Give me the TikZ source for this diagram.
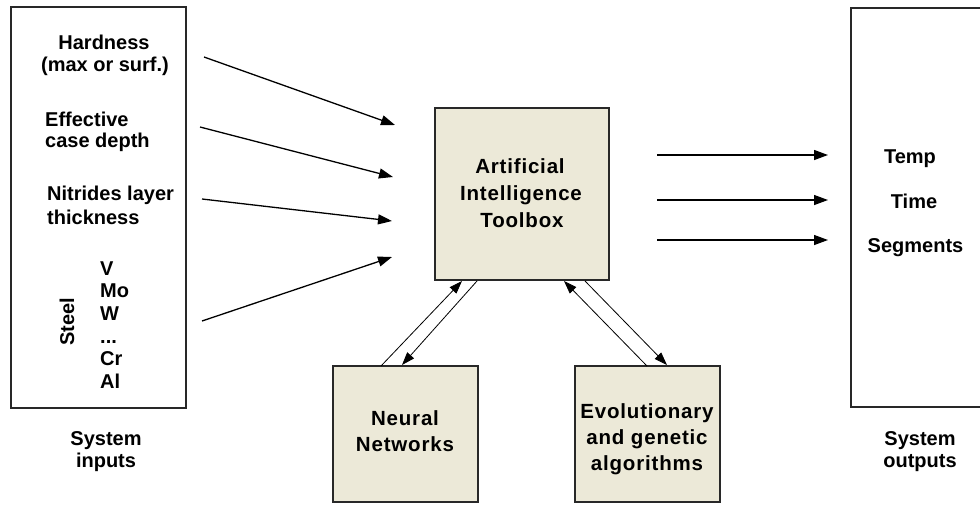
\documentclass[tikz,border=0pt]{standalone}
\usepackage{fontspec}
\setmainfont{Liberation Sans}
\newfontfamily\boxfont[LetterSpace=4]{Liberation Sans}
\usetikzlibrary{arrows.meta}
\definecolor{toolfill}{RGB}{236,233,216}
\definecolor{framecol}{RGB}{40,40,40}
\begin{document}
\begin{tikzpicture}[x=1pt,y=-1pt,
  lbl/.style={font=\bfseries\fontsize{20}{24}\selectfont, inner sep=0pt, anchor=base},
  lbll/.style={lbl, anchor=base west},
  boxlbl/.style={font=\boxfont\bfseries\fontsize{20.5}{24}\selectfont, inner sep=0pt, anchor=base},
  frame/.style={draw=framecol, line width=2pt, inner sep=0pt, outer sep=0pt},
  tool/.style={frame, fill=toolfill},
  bigarrow/.style={line width=1.3pt, -{Triangle[length=14pt,width=10pt]}},
  thinarrow/.style={line width=0.8pt, -{Triangle[length=13pt,width=9pt]}},
]
\useasboundingbox (0,0) rectangle (980,504);
\clip (0,0) rectangle (980,504);

% boxes
\node[frame, minimum width=175pt, minimum height=401pt] (inbox) at (98.5,207.5) {};
\node[frame, minimum width=150pt, minimum height=399pt] (outbox) at (926,207.5) {};
\node[tool, minimum width=174pt, minimum height=172pt] (ai) at (522,194) {};
\node[tool, minimum width=145pt, minimum height=136pt] (nn) at (405.5,434) {};
\node[tool, minimum width=145pt, minimum height=136pt] (ega) at (647.5,434) {};

% input texts
\node[lbl] (h1) at (104,49) {Hardness};
\node[lbl] (h2) at (105,71) {(max or surf.)};
\node[lbll] (e1) at (45,126) {Effective};
\node[lbll] (e2) at (45,147) {case depth};
\node[lbll] (n1) at (47,200) {Nitrides layer};
\node[lbll] (n2) at (47,224) {thickness};
\node[lbll] (s1) at (100,275) {V};
\node[lbll] (s2) at (100,297) {Mo};
\node[lbll] (s3) at (100,320) {W};
\node[lbll] (s4) at (100,343) {...};
\node[lbll] (s5) at (100,365) {Cr};
\node[lbll] (s6) at (100,388) {Al};
\node[lbl, anchor=center, rotate=90] (steel) at (67,322) {Steel};
\node[lbl] (si1) at (106,445) {System};
\node[lbl] (si2) at (106,467) {inputs};

% tool box texts
\node[boxlbl] (a1) at (520,173) {Artificial};
\node[boxlbl] (a2) at (521,200) {Intelligence};
\node[boxlbl] (a3) at (522,227) {Toolbox};
\node[boxlbl] (nn1) at (405,425) {Neural};
\node[boxlbl] (nn2) at (405,451) {Networks};
\node[boxlbl] (g1) at (647,418) {Evolutionary};
\node[boxlbl] (g2) at (647,444) {and genetic};
\node[boxlbl] (g3) at (647,470) {algorithms};

% output texts
\node[lbl] (o1) at (910,163) {Temp};
\node[lbl] (o2) at (914,208) {Time};
\node[lbl] (o3) at (915.5,252) {Segments};
\node[lbl] (so1) at (920,445) {System};
\node[lbl] (so2) at (920,467) {outputs};

% coordinates for arrows
\coordinate (i1s) at (204,57);  \coordinate (i1e) at (395,125);
\coordinate (i2s) at (200,127); \coordinate (i2e) at (393,177);
\coordinate (i3s) at (202,199); \coordinate (i3e) at (392,221);
\coordinate (i4s) at (202,321); \coordinate (i4e) at (392,257);
\coordinate (o1s) at (657,155); \coordinate (o1e) at (828,155);
\coordinate (o2s) at (657,200); \coordinate (o2e) at (828,200);
\coordinate (o3s) at (657,240); \coordinate (o3e) at (828,240);
\coordinate (nnA) at (381,366); \coordinate (aiA) at (462,281);
\coordinate (aiB) at (477,281); \coordinate (nnB) at (402,365);
\coordinate (egA) at (647,366); \coordinate (aiC) at (564,281);
\coordinate (aiD) at (585,281); \coordinate (egB) at (667,365);

\draw[bigarrow] (i1s) -- (i1e);
\draw[bigarrow] (i2s) -- (i2e);
\draw[bigarrow] (i3s) -- (i3e);
\draw[bigarrow] (i4s) -- (i4e);
\draw[bigarrow] (o1s) -- (o1e);
\draw[bigarrow] (o2s) -- (o2e);
\draw[bigarrow] (o3s) -- (o3e);
\draw[thinarrow] (nnA) -- (aiA);
\draw[thinarrow] (aiB) -- (nnB);
\draw[thinarrow] (egA) -- (aiC);
\draw[thinarrow] (aiD) -- (egB);
\end{tikzpicture}
\end{document}
